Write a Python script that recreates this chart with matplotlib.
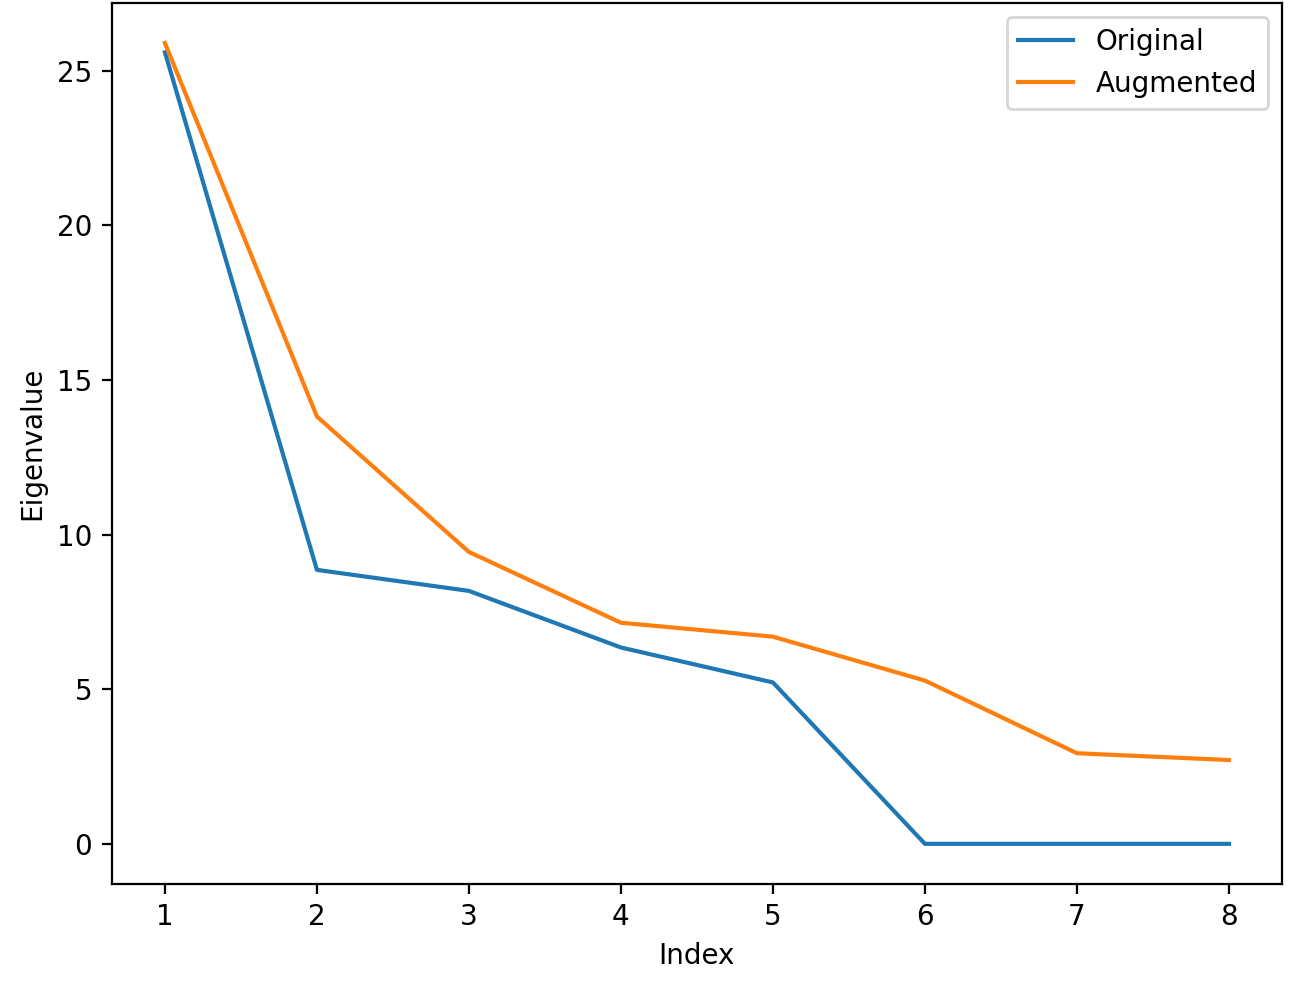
import matplotlib
matplotlib.use("Agg")
import matplotlib.pyplot as plt

index = [1, 2, 3, 4, 5, 6, 7, 8]
original = [25.6, 8.86, 8.18, 6.35, 5.22, 0.0, 0.0, 0.0]
augmented = [25.9, 13.82, 9.44, 7.15, 6.70, 5.28, 2.93, 2.71]

fig = plt.figure(figsize=(6.495, 4.905), dpi=200)
ax = fig.add_axes([0.086, 0.099, 0.901, 0.898])

ax.plot(index, original, label="Original")
ax.plot(index, augmented, label="Augmented")

ax.set_xlabel("Index")
ax.set_ylabel("Eigenvalue")
ax.set_xticks(index)
ax.legend(loc="upper right")

fig.savefig("out.png", dpi=200)
